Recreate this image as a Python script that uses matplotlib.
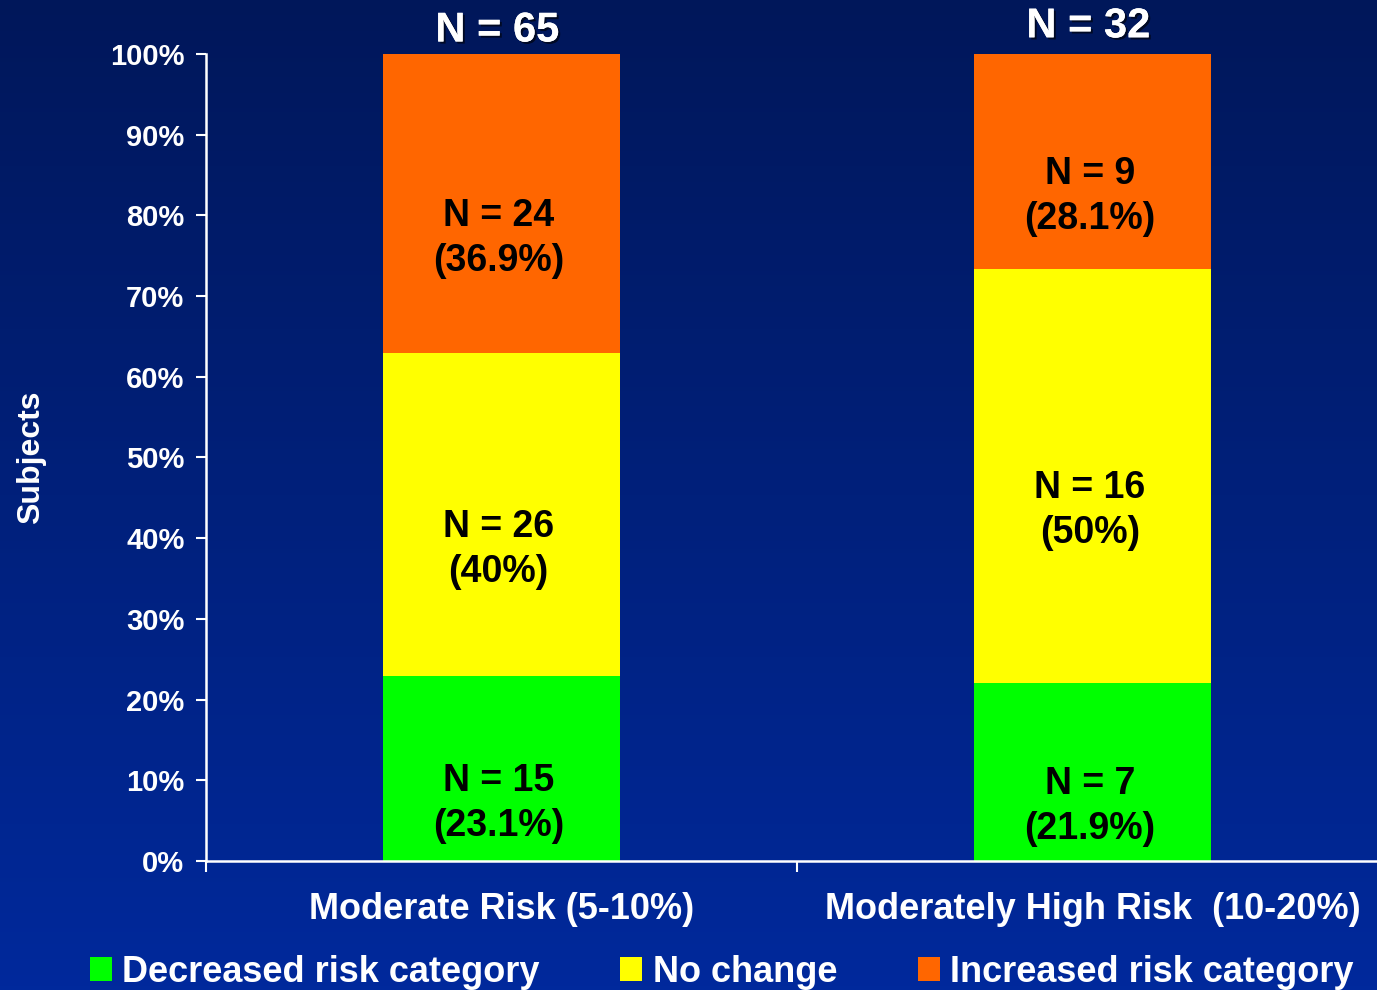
import matplotlib
matplotlib.use('Agg')
import matplotlib.pyplot as plt
import matplotlib.patheffects as pe
from matplotlib.patches import Patch
import numpy as np

categories = ['Moderate Risk (5-10%)', 'Moderately High Risk  (10-20%)']
totals = [65, 32]
series = ['Decreased risk category', 'No change', 'Increased risk category']
counts = [[15, 7], [26, 16], [24, 9]]
percents = [[23.1, 21.9], [40, 50], [36.9, 28.1]]
# segment heights as drawn in the picture (the second bar is not drawn to its labels)
heights = [[22.9, 22.1], [40.0, 51.3], [37.1, 26.6]]
colors = ['#00FF00', '#FFFF00', '#FF6600']
yticks = [0, 10, 20, 30, 40, 50, 60, 70, 80, 90, 100]

plt.rcParams['font.family'] = ['Liberation Sans', 'DejaVu Sans']
plt.rcParams['font.weight'] = 'bold'

W, H = 1377, 990
fig = plt.figure(figsize=(W / 100, H / 100), dpi=100)

# gradient background, dark navy at the top to royal blue at the bottom
bg = fig.add_axes([0, 0, 1, 1], zorder=-10)
top_c = np.array([0, 23, 90]) / 255
bot_c = np.array([0, 41, 156]) / 255
g = np.linspace(0, 1, 256)[:, None, None]
bg.imshow(top_c + (bot_c - top_c) * g, aspect='auto', extent=[0, 1, 0, 1])
bg.axis('off')

ax = fig.add_axes([206 / W, 129 / H, (1388 - 206) / W, 807 / H])
ax.patch.set_alpha(0)

x = np.arange(len(categories))
bottom = np.zeros(len(categories))
for i, name in enumerate(series):
    h = np.array(heights[i], dtype=float)
    ax.bar(x, h, 0.40, bottom=bottom, color=colors[i], label=name, zorder=2)
    for xi, b, hi, c, p in zip(x, bottom, h, counts[i], percents[i]):
        ax.annotate(f'N = {c}\n({p:g}%)', (xi, b + hi / 2), xytext=(-2, -25),
                    textcoords='offset points', ha='center', va='center',
                    fontsize=27, color='black', linespacing=1.32)
    bottom += h

shadow = [pe.withSimplePatchShadow(offset=(1.5, -1.5), shadow_rgbFace='black', alpha=0.6),
          pe.Normal()]
for xi, t, dy in zip(x, totals, [9, 12]):
    ax.annotate(f'N = {t}', (xi, 100), xytext=(-3, dy), textcoords='offset points',
                ha='center', va='baseline', fontsize=30, color='white',
                annotation_clip=False, path_effects=shadow)

ax.set_xlim(-0.5, 1.5)
ax.set_ylim(0, 100)
ax.set_yticks(yticks)
ax.yaxis.set_major_formatter(lambda v, p: f'{v:.0f}%')
ax.tick_params(axis='y', colors='white', labelsize=21, length=7, width=1.5, pad=8.5)

ax.set_xticks(x)
ax.set_xticklabels(categories)
ax.set_xticks([-0.5, 0.5, 1.5], minor=True)
ax.tick_params(axis='x', which='major', length=0, labelsize=26, labelcolor='white', pad=22)
ax.tick_params(axis='x', which='minor', length=8, width=1.5, color='white')

for s in ['top', 'right']:
    ax.spines[s].set_visible(False)
for s in ['left', 'bottom']:
    ax.spines[s].set_color('white')
    ax.spines[s].set_linewidth(1.8)

fig.text(31 / W, 1 - 457 / H, 'Subjects', rotation=90, ha='center', va='center',
         fontsize=23, color='white')

handles = [Patch(facecolor=c, edgecolor='none', label=l) for c, l in zip(colors, series)]
fig.legend(handles=handles, loc='center left', bbox_to_anchor=(0.065, 0.018), ncol=3,
           frameon=False, fontsize=26, handlelength=0.61, handleheight=0.61,
           handletextpad=0.28, columnspacing=2.25, borderpad=0, borderaxespad=0,
           labelcolor='white')

fig.savefig('out.png', dpi=100)
